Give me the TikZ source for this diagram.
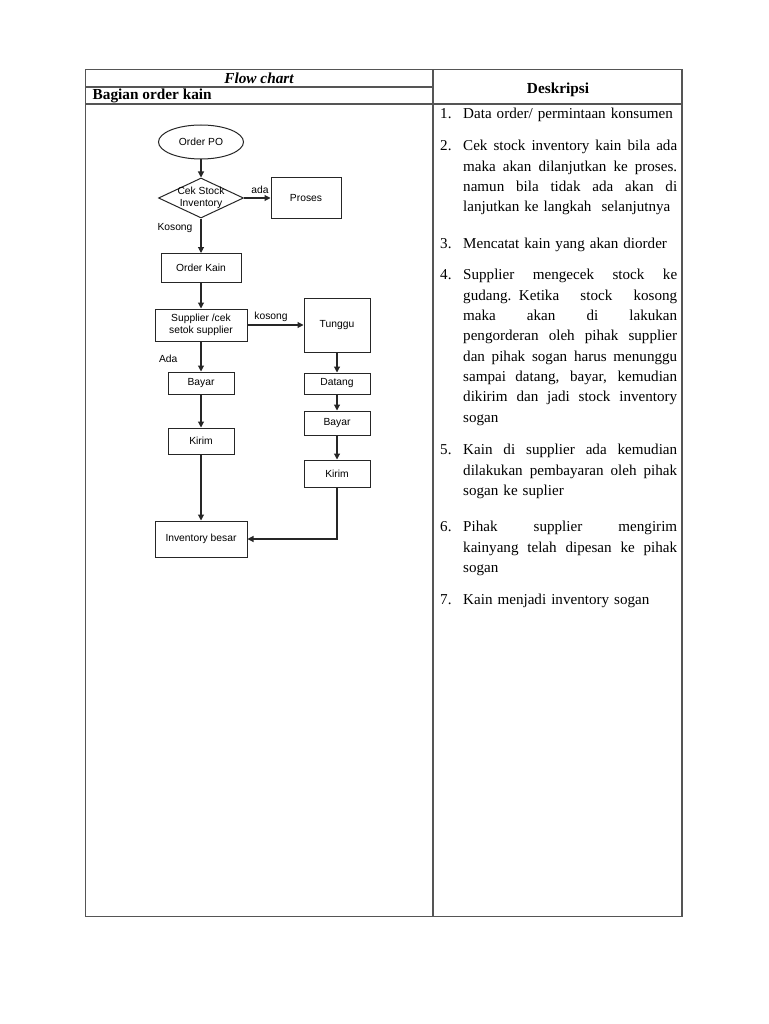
\documentclass[tikz,border=0pt]{standalone}
\usepackage{fontspec}
\setmainfont{Liberation Serif}
\newfontfamily\flowfont{Liberation Sans}
\usetikzlibrary{positioning,shapes.geometric,arrows.meta}
\definecolor{rule}{HTML}{555555}
\definecolor{ink}{HTML}{262626}
\newlength\descw
\setlength\descw{214pt}
\newcommand\jl[1]{\makebox[\descw][s]{\spaceskip=0.25em plus 1fil\relax #1}}
\tikzset{
  fbox/.style={rectangle,draw=ink,line width=1pt,align=center,inner sep=1pt,
    font=\flowfont\fontsize{10.3}{12}\selectfont},
  term/.style={ellipse,draw=ink,line width=1pt,inner sep=0pt,
    font=\flowfont\fontsize{10.3}{12}\selectfont},
  dec/.style={diamond,draw=ink,line width=1pt,inner sep=0pt},
  lbl/.style={inner sep=0pt,font=\flowfont\fontsize{10.3}{12}\selectfont},
  fl/.style={-{Triangle[length=6pt,width=6pt]},draw=ink,line width=1.1pt},
  grid/.style={draw=rule,line width=1.2pt},
  head/.style={inner sep=0pt,font=\bfseries\fontsize{15.3}{18}\selectfont},
  num/.style={anchor=north west,inner sep=0pt,font=\fontsize{15.1}{20.3}\selectfont},
  desc/.style={anchor=north west,inner sep=0pt,text width=\descw,align=left,
    font=\fontsize{15.1}{20.3}\selectfont},
}
\begin{document}
\begin{tikzpicture}[x=1pt,y=-1pt]
  \useasboundingbox (0,0) rectangle (768,1024);
  % table
  \draw[grid] (85.5,69.5) rectangle (682,916.5);
  \draw[grid] (433,69.5) -- (433,916.5);
  \draw[grid] (85.5,87) -- (433,87);
  \draw[grid] (85.5,104) -- (682,104);
  \node[head,font=\bfseries\itshape\fontsize{15.3}{18}\selectfont] (fc) at (259,78) {Flow chart};
  \node[head,anchor=west] (bag) at (92.5,96) {Bagian order kain};
  \node[head] (desk) at (558,89.5) {Deskripsi};
  % flow chart
  \node[term,minimum width=85pt,minimum height=34pt] (po) at (201,142) {Order PO};
  \node[dec,minimum width=85pt,minimum height=40pt,
    label={[lbl,align=center]center:{Cek Stock\\Inventory}}] (cek) at (201,198) {};
  \node[fbox,minimum width=70pt,minimum height=41pt] (proses) at (306,198) {Proses};
  \node[fbox,minimum width=80pt,minimum height=29pt] (ok) at (201,268) {Order Kain};
  \node[fbox,minimum width=92pt,minimum height=32pt] (sup) at (201,325) {Supplier /cek\\setok supplier};
  \node[fbox,minimum width=66pt,minimum height=54pt] (tunggu) at (337,325) {Tunggu};
  \node[fbox,minimum width=66pt,minimum height=22pt] (bayar) at (201,383) {Bayar};
  \node[fbox,minimum width=66pt,minimum height=26pt] (kirim) at (201,441) {Kirim};
  \node[fbox,minimum width=66pt,minimum height=21pt] (datang) at (337,383.5) {Datang};
  \node[fbox,minimum width=66pt,minimum height=24pt] (bayarb) at (337,423) {Bayar};
  \node[fbox,minimum width=66pt,minimum height=27pt] (kirimb) at (337,473.5) {Kirim};
  \node[fbox,minimum width=92pt,minimum height=36pt] (inv) at (201,539) {Inventory besar};
  \draw[fl] (po) -- (cek);
  \draw[fl] (cek) -- node[lbl,pos=0.6,above=4pt]{ada} (proses);
  \draw[fl] (cek) -- node[lbl,pos=0.28,left=8pt]{Kosong} (ok);
  \draw[fl] (ok) -- (sup);
  \draw[fl] (sup) -- node[lbl,pos=0.42,above=3pt]{kosong} (tunggu);
  \draw[fl] (sup) -- node[lbl,pos=0.58,left=23pt]{Ada} (bayar);
  \draw[fl] (bayar) -- (kirim);
  \draw[fl] (kirim) -- (inv);
  \draw[fl] (tunggu) -- (datang);
  \draw[fl] (datang) -- (bayarb);
  \draw[fl] (bayarb) -- (kirimb);
  \draw[fl] (kirimb) |- (inv);
  % deskripsi
  \node[num] (n1) at (440,104.5) {\strut 1.};
  \node[desc] (d1) at (463,104.5) {\noindent\strut Data order/ permintaan konsumen};
  \node[num] (n2) at (440,136.5) {\strut 2.};
  \node[desc] (d2) at (463,136.5) {\noindent\strut\jl{Cek stock inventory kain bila ada}\\
    \jl{maka akan dilanjutkan ke proses.}\\
    \jl{namun bila tidak ada akan di}\\
    lanjutkan ke langkah\ \ selanjutnya};
  \node[num] (n3) at (440,234.5) {\strut 3.};
  \node[desc] (d3) at (463,234.5) {\noindent\strut Mencatat kain yang akan diorder};
  \node[num] (n4) at (440,265.5) {\strut 4.};
  \node[desc] (d4) at (463,265.5) {\noindent\strut\jl{Supplier mengecek stock ke}\\
    \jl{gudang. Ketika stock kosong}\\
    \jl{maka akan di lakukan}\\
    \jl{pengorderan oleh pihak supplier}\\
    \jl{dan pihak sogan harus menunggu}\\
    \jl{sampai datang, bayar, kemudian}\\
    \jl{dikirim dan jadi stock inventory}\\
    sogan};
  \node[num] (n5) at (440,440.5) {\strut 5.};
  \node[desc] (d5) at (463,440.5) {\noindent\strut\jl{Kain di supplier ada kemudian}\\
    \jl{dilakukan pembayaran oleh pihak}\\
    sogan ke suplier};
  \node[num] (n6) at (440,517.5) {\strut 6.};
  \node[desc] (d6) at (463,517.5) {\noindent\strut\jl{Pihak supplier mengirim}\\
    \jl{kainyang telah dipesan ke pihak}\\
    sogan};
  \node[num] (n7) at (440,590.5) {\strut 7.};
  \node[desc] (d7) at (463,590.5) {\noindent\strut Kain menjadi inventory sogan};
\end{tikzpicture}
\end{document}
